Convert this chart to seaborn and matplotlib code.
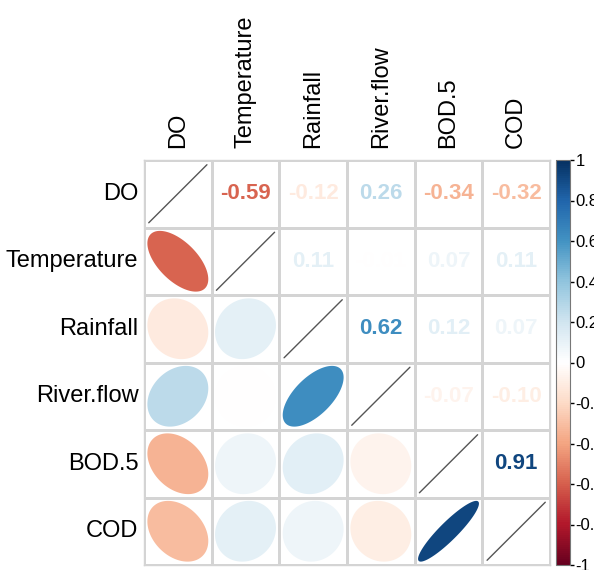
import numpy as np
import pandas as pd
import seaborn as sns
import matplotlib.pyplot as plt
from matplotlib.colors import ListedColormap, LinearSegmentedColormap, Normalize
from matplotlib.cm import ScalarMappable
from matplotlib.ticker import FuncFormatter

# Variables and correlation matrix
variables = ["DO", "Temperature", "Rainfall", "River.flow", "BOD.5", "COD"]
r_do = [1.00, -0.59, -0.12, 0.26, -0.34, -0.32]
r_temp = [-0.59, 1.00, 0.11, -0.01, 0.07, 0.11]
r_rain = [-0.12, 0.11, 1.00, 0.62, 0.12, 0.07]
r_flow = [0.26, -0.01, 0.62, 1.00, -0.07, -0.10]
r_bod = [-0.34, 0.07, 0.12, -0.07, 1.00, 0.91]
r_cod = [-0.32, 0.11, 0.07, -0.10, 0.91, 1.00]
cbar_ticks = [-1, -0.8, -0.6, -0.4, -0.2, 0, 0.2, 0.4, 0.6, 0.8, 1]

corr = pd.DataFrame([r_do, r_temp, r_rain, r_flow, r_bod, r_cod],
                    index=variables, columns=variables)

sns.set_style("white")
plt.rcParams["font.family"] = ["Liberation Sans", "DejaVu Sans"]
plt.rcParams["text.color"] = "black"
plt.rcParams["xtick.color"] = "black"
plt.rcParams["ytick.color"] = "black"

# corrplot-style red/blue palette with a pure white middle
rdbu = ["#67001F", "#B2182B", "#D6604D", "#F4A582", "#FDDBC7", "#FFFFFF",
        "#D1E5F0", "#92C5DE", "#4393C3", "#2166AC", "#053061"]
cmap = LinearSegmentedColormap.from_list("corr_rdbu", rdbu, N=200)
norm = Normalize(vmin=-1, vmax=1)
grid_color = "#d4d4d4"

fig = plt.figure(figsize=(5.94, 5.70), dpi=100)
ax = fig.add_axes([144 / 594, 5 / 570, 406 / 594, 405 / 570])

# white cells with light grid, drawn by seaborn
sns.heatmap(np.zeros(corr.shape), cmap=ListedColormap(["white"]), cbar=False,
            linewidths=1, linecolor=grid_color, ax=ax,
            xticklabels=variables, yticklabels=variables)
for sp in ax.spines.values():
    sp.set_visible(True)
    sp.set_color(grid_color)
    sp.set_linewidth(1)

ax.xaxis.tick_top()
ax.tick_params(axis="x", top=True, labeltop=True, bottom=False, labelbottom=False,
               length=0, pad=9, labelsize=17, rotation=90)
ax.tick_params(axis="y", length=0, pad=4, labelsize=17, rotation=0)


def ellipse_pts(rho, n=120, scale=0.9):
    t = np.linspace(0, 2 * np.pi, n)
    a = np.arccos(np.clip(rho, -1, 1))
    x = np.cos(t + a / 2) / 2 * scale
    y = np.cos(t - a / 2) / 2 * scale
    return x, y


n = len(variables)
for i in range(n):
    for j in range(n):
        r = corr.iloc[i, j]
        cx, cy = j + 0.5, i + 0.5
        if i == j:
            ax.plot([cx - 0.43, cx + 0.43], [cy + 0.43, cy - 0.43],
                    color="#555555", lw=1)
        elif i > j:
            ex, ey = ellipse_pts(r)
            # y axis is inverted in the heatmap
            ax.fill(cx + ex, cy - ey, color=cmap(norm(r)), lw=0)
        else:
            ax.text(cx, cy, f"{r:.2f}", ha="center", va="center",
                    fontsize=16, fontweight="bold", color=cmap(norm(r)))

# colour legend
cax = fig.add_axes([556 / 594, 5 / 570, 14 / 594, 405 / 570])
cb = fig.colorbar(ScalarMappable(norm=norm, cmap=cmap), cax=cax, ticks=cbar_ticks)
cb.ax.yaxis.set_major_formatter(FuncFormatter(lambda v, p: f"{v:g}"))
cb.ax.tick_params(labelsize=12, length=3, width=1, color="black", pad=1)
cb.outline.set_edgecolor("#777777")
cb.outline.set_linewidth(0.8)

fig.savefig("out.png", dpi=100)
